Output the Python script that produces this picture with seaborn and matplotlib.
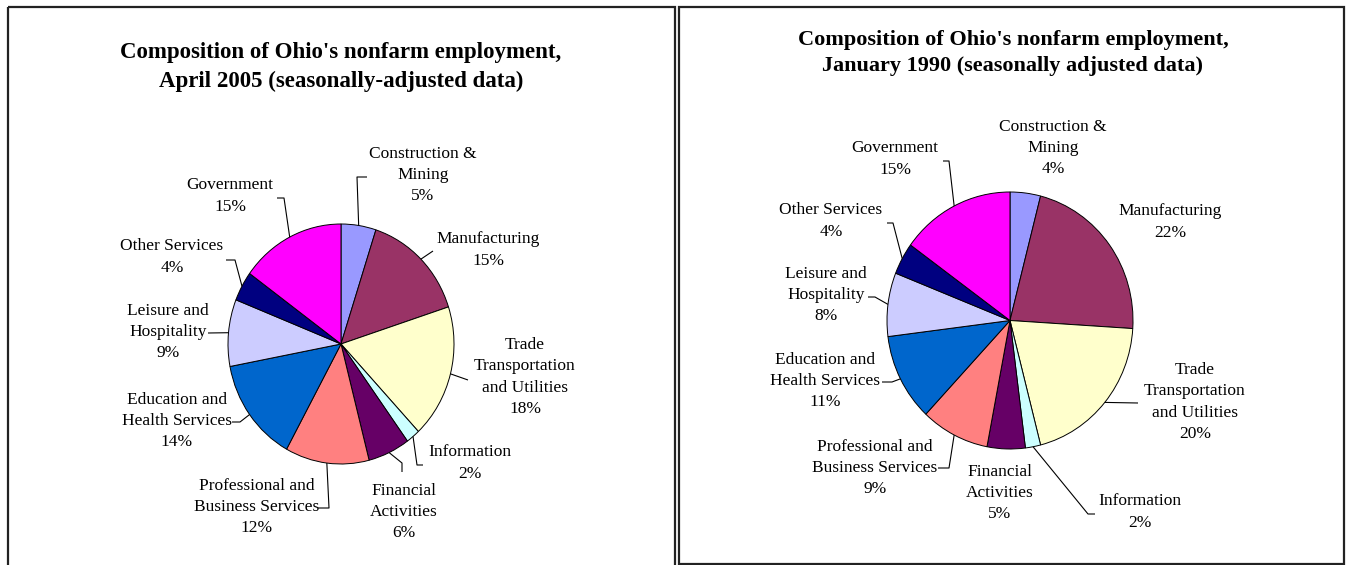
import numpy as np
import matplotlib
matplotlib.use("Agg")
import matplotlib.pyplot as plt
from matplotlib.patches import Rectangle
import seaborn as sns

# ---------------- data ----------------
categories = ["Construction &\nMining", "Manufacturing",
              "Trade\nTransportation\nand Utilities", "Information",
              "Financial\nActivities", "Professional and\nBusiness Services",
              "Education and\nHealth Services", "Leisure and\nHospitality",
              "Other Services", "Government"]
share_2005 = [5, 15, 18, 2, 6, 12, 14, 9, 4, 15]
share_1990 = [4, 22, 20, 2, 5, 9, 11, 8, 4, 15]
title_2005 = "Composition of Ohio's nonfarm employment,\nApril 2005 (seasonally-adjusted data)"
title_1990 = "Composition of Ohio's nonfarm employment,\nJanuary 1990 (seasonally adjusted data)"
slice_colors = ["#9999FF", "#993366", "#FFFFCC", "#CCFFFF", "#660066",
                "#FF8080", "#0066CC", "#CCCCFF", "#000080", "#FF00FF"]

# ---------------- layout ----------------
W, H = 1351, 565
sns.set_theme(style="white")
plt.rcParams["font.family"] = ["Liberation Serif", "DejaVu Serif"]

fig = plt.figure(figsize=(W / 100, H / 100), dpi=100)
fig.patch.set_facecolor("white")

overlay = fig.add_axes([0, 0, 1, 1], zorder=5)
overlay.set_xlim(0, W)
overlay.set_ylim(H, 0)
overlay.axis("off")

# frames
overlay.add_patch(Rectangle((7.5, 6.5), 667.5, 580, fill=False, edgecolor="#222222", lw=1.6))
overlay.add_patch(Rectangle((679, 6.5), 665, 557.5, fill=False, edgecolor="#222222", lw=1.6))

panels = [
    dict(values=share_2005, title=title_2005, tpos=(341, 67), tsize=16.5,
         cx=341, cy=344, rx=113, ry=120,
         lpos=[(423, 175), (488, 250), (525, 377), (470, 463), (404, 512),
               (257, 507), (177, 421), (168, 332), (172, 257), (230, 196)],
         leaders=[[(357, 177), (367, 177)], [(433, 251)], [(468, 380)],
                  [(417, 465), (423, 465)], [(402, 463), (402, 472)],
                  [(329, 508), (318, 508)], [(240, 422), (232, 422)],
                  [(208, 333)], [(235, 260), (226, 260)], [(284, 198), (277, 198)]]),
    dict(values=share_1990, title=title_1990, tpos=(1013, 53), tsize=16,
         cx=1010, cy=320.5, rx=123, ry=128.5,
         lpos=[(1053, 148), (1170, 222), (1195, 402), (1140, 512), (1000, 493),
               (875, 468), (825, 381), (826, 295), (831, 221), (895, 159)],
         leaders=[None, None, [(1138, 403)], [(1088, 514), (1095, 514)], None,
                  [(949, 468), (938, 468)], [(892, 382), (882, 382)],
                  [(875, 297), (868, 297)], [(893, 223), (887, 223)],
                  [(949, 161), (943, 161)]]),
]

palette = sns.color_palette(slice_colors)

for p in panels:
    cx, cy, rx, ry = p["cx"], p["cy"], p["rx"], p["ry"]
    ax = fig.add_axes([(cx - rx) / W, (H - cy - ry) / H, 2 * rx / W, 2 * ry / H], zorder=2)
    wedges, _ = ax.pie(p["values"], colors=palette, startangle=90, counterclock=False,
                       radius=1, center=(0, 0),
                       wedgeprops=dict(edgecolor="black", linewidth=0.7))
    ax.set_aspect("auto")
    ax.set_xlim(-1, 1)
    ax.set_ylim(-1, 1)
    ax.axis("off")

    overlay.text(p["tpos"][0], p["tpos"][1], p["title"], ha="center", va="center",
                 fontsize=p["tsize"], fontweight="bold", linespacing=1.45, color="black")

    for w, cat, val, pos, lead in zip(wedges, categories, p["values"], p["lpos"], p["leaders"]):
        overlay.text(pos[0], pos[1], f"{cat}\n{val}%", ha="center", va="center",
                     multialignment="center", fontsize=12.5, linespacing=1.45, color="black")
        if lead is not None:
            mid = np.deg2rad((w.theta1 + w.theta2) / 2)
            sx, sy = cx + rx * np.cos(mid), cy - ry * np.sin(mid)
            xs = [sx] + [q[0] for q in lead]
            ys = [sy] + [q[1] for q in lead]
            overlay.plot(xs, ys, color="black", lw=0.8, solid_capstyle="butt")

fig.savefig("out.png", dpi=100, facecolor="white")
